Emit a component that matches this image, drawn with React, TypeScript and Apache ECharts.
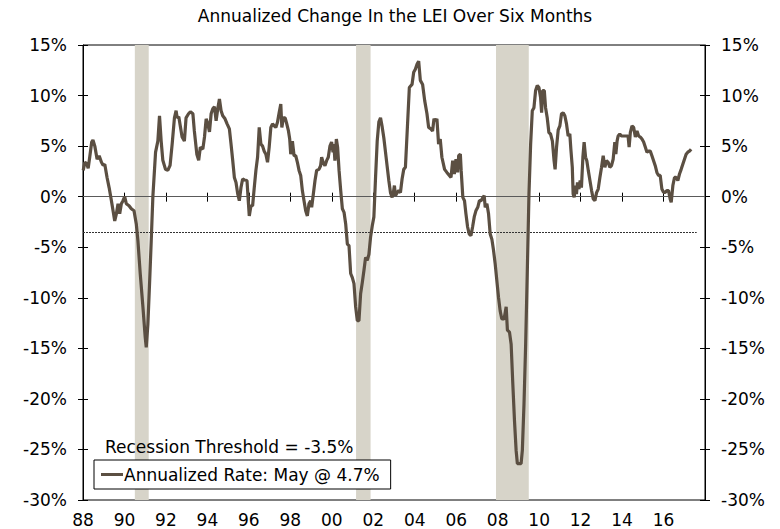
import React, { useEffect, useRef } from 'react';
import * as echarts from 'echarts';

const FONT = '"DejaVu Sans", Verdana, sans-serif';
const LINE_COLOR = '#5b4f42';
const BAND_COLOR = '#d7d4c9';

const subtitle = 'Annualized Change In the LEI Over Six Months';
const seriesName = 'Annualized Rate: May @ 4.7%';
const thresholdLabel = 'Recession Threshold = -3.5%';
const thresholdValue = -3.5;

const xMin = 1988;
const xMax = 2018;
const xInterval = 2;
const yMin = -30;
const yMax = 15;
const yInterval = 5;

// recession periods (decimal years)
const recessions: [number, number][] = [
  [1990.5, 1991.17],
  [2001.17, 2001.87],
  [2007.92, 2009.5],
];

// [decimal year, annualized % change]
const lei1988to1996: [number, number][] = [
  [1988.01, 2.6], [1988.09, 3.4], [1988.17, 3.3], [1988.25, 2.8], [1988.33, 4.0], [1988.42, 5.4],
  [1988.48, 5.6], [1988.57, 5.0], [1988.68, 3.7], [1988.78, 4.05], [1988.89, 3.4], [1988.97, 3.1],
  [1989.05, 3.2], [1989.16, 1.9], [1989.26, 0.9], [1989.37, -0.4], [1989.45, -1.4], [1989.53, -2.4],
  [1989.61, -1.7], [1989.69, -0.7], [1989.77, -1.7], [1989.85, -0.7], [1989.93, -0.4], [1990.01, 0.0],
  [1990.09, -0.7], [1990.22, -0.9], [1990.33, -1.2], [1990.46, -1.4], [1990.57, -2.7], [1990.65, -4.4],
  [1990.76, -7.6], [1990.89, -10.9], [1991.0, -13.9], [1991.05, -14.9], [1991.13, -12.6], [1991.21, -8.6],
  [1991.29, -4.4], [1991.37, 0.0], [1991.5, 4.4], [1991.61, 5.5], [1991.69, 8.0], [1991.77, 5.5],
  [1991.85, 3.6], [1991.98, 2.7], [1992.09, 2.6], [1992.2, 3.1], [1992.3, 5.2], [1992.41, 7.8],
  [1992.49, 8.5], [1992.54, 7.8], [1992.62, 7.9], [1992.7, 6.9], [1992.78, 5.9], [1992.89, 5.5],
  [1992.97, 7.8], [1993.09, 8.2], [1993.18, 8.4], [1993.3, 8.2], [1993.37, 6.5], [1993.49, 4.2],
  [1993.58, 3.6], [1993.66, 4.9], [1993.78, 4.7], [1993.86, 5.9], [1993.94, 7.7], [1994.02, 7.2],
  [1994.1, 6.4], [1994.18, 8.2], [1994.26, 8.7], [1994.34, 8.9], [1994.42, 7.5], [1994.5, 8.7],
  [1994.58, 9.65], [1994.66, 8.5], [1994.74, 8.0], [1994.85, 7.7], [1994.95, 7.2], [1995.06, 6.7],
  [1995.14, 5.2], [1995.22, 3.6], [1995.3, 1.9], [1995.38, 1.4], [1995.46, 0.3], [1995.54, -0.4],
  [1995.62, 0.9], [1995.7, 1.75], [1995.78, 1.65], [1995.91, 1.6], [1995.97, -0.4], [1996.02, -1.9],
  [1996.1, -0.9], [1996.18, -0.9], [1996.26, 0.9], [1996.34, 2.6], [1996.42, 3.9], [1996.5, 6.85],
];

const lei1996to2003: [number, number][] = [
  [1996.58, 5.2], [1996.66, 5.0], [1996.74, 4.5], [1996.82, 4.2], [1996.9, 3.4], [1996.98, 4.9],
  [1997.06, 6.85], [1997.14, 7.2], [1997.22, 7.0], [1997.3, 6.85], [1997.38, 7.35], [1997.46, 8.3],
  [1997.54, 9.15], [1997.59, 6.85], [1997.67, 7.8], [1997.75, 7.8], [1997.81, 7.35], [1997.91, 6.5],
  [1997.97, 5.7], [1998.02, 4.2], [1998.1, 5.5], [1998.18, 4.05], [1998.26, 4.05], [1998.34, 3.4],
  [1998.42, 2.6], [1998.5, 2.1], [1998.58, 0.6], [1998.66, -0.4], [1998.74, -1.4], [1998.82, -1.9],
  [1998.9, -0.7], [1998.98, -0.4], [1999.03, -1.05], [1999.11, 0.26], [1999.19, 1.6], [1999.27, 2.6],
  [1999.38, 2.7], [1999.46, 3.06], [1999.51, 3.9], [1999.58, 3.4], [1999.67, 3.06], [1999.75, 3.56],
  [1999.83, 3.9], [1999.91, 5.0], [1999.99, 5.4], [2000.06, 4.4], [2000.1, 5.2], [2000.15, 3.56],
  [2000.22, 5.7], [2000.28, 4.9], [2000.35, 2.6], [2000.43, 0.6], [2000.51, -1.2], [2000.59, -1.55],
  [2000.67, -2.7], [2000.75, -4.7], [2000.83, -4.85], [2000.91, -7.6], [2000.99, -8.0], [2001.07, -8.6],
  [2001.15, -10.9], [2001.23, -12.25], [2001.31, -12.25], [2001.39, -9.6], [2001.47, -8.5], [2001.55, -7.3],
  [2001.63, -6.0], [2001.71, -6.3], [2001.79, -5.7], [2001.87, -4.0], [2001.95, -2.9], [2002.03, -2.0],
  [2002.11, 1.9], [2002.19, 5.5], [2002.27, 7.4], [2002.35, 7.8], [2002.43, 6.9], [2002.51, 5.8],
  [2002.59, 4.4], [2002.67, 3.0], [2002.75, 1.6], [2002.83, 0.4], [2002.91, -0.07], [2002.96, 0.26],
  [2003.02, 1.1], [2003.07, 0.1], [2003.15, 0.4], [2003.23, 0.6], [2003.31, 0.4], [2003.39, 1.75],
  [2003.47, 2.7], [2003.55, 2.9],
];

const lei2003to2011: [number, number][] = [
  [2003.63, 6.2], [2003.74, 10.8], [2003.87, 11.1], [2003.95, 12.3], [2004.03, 12.6], [2004.11, 13.1],
  [2004.19, 13.4], [2004.27, 11.5], [2004.38, 11.1], [2004.48, 9.5], [2004.59, 8.2], [2004.67, 6.85],
  [2004.78, 6.7], [2004.86, 6.5], [2004.93, 7.7], [2005.0, 7.5], [2005.07, 7.7], [2005.15, 5.2],
  [2005.23, 5.7], [2005.31, 3.9], [2005.44, 2.7], [2005.55, 2.4], [2005.67, 2.1], [2005.75, 1.9],
  [2005.83, 3.56], [2005.91, 2.24], [2005.99, 3.7], [2006.07, 2.4], [2006.12, 4.05], [2006.2, 4.2],
  [2006.24, 2.6], [2006.32, -0.07], [2006.4, -0.4], [2006.47, -1.7], [2006.55, -3.0], [2006.63, -3.7],
  [2006.71, -3.85], [2006.79, -3.0], [2006.87, -2.0], [2006.95, -1.4], [2007.04, -1.05], [2007.12, -0.4],
  [2007.2, -0.4], [2007.29, -0.07], [2007.35, 0.1], [2007.4, -1.05], [2007.48, -0.7], [2007.56, -1.7],
  [2007.64, -3.7], [2007.72, -4.2], [2007.8, -5.3], [2007.88, -6.65], [2007.96, -8.3], [2008.04, -9.95],
  [2008.12, -11.3], [2008.2, -12.1], [2008.31, -12.1], [2008.41, -10.9], [2008.47, -13.2], [2008.57, -13.4],
  [2008.65, -14.6], [2008.73, -18.5], [2008.81, -22.1], [2008.89, -25.1], [2008.95, -26.4], [2009.05, -26.4],
  [2009.13, -26.4], [2009.19, -25.1], [2009.27, -20.5], [2009.35, -14.6], [2009.43, -7.3], [2009.51, 0.26],
  [2009.59, 5.2], [2009.67, 8.5], [2009.75, 8.8], [2009.83, 10.5], [2009.91, 11.0], [2009.99, 10.8],
  [2010.07, 9.8], [2010.12, 8.3], [2010.17, 10.5], [2010.25, 10.5], [2010.31, 8.8], [2010.39, 7.8],
  [2010.47, 6.35], [2010.55, 6.2], [2010.64, 5.5], [2010.72, 3.56], [2010.77, 2.7], [2010.84, 4.9],
  [2010.92, 6.6],
];

const lei2011to2017: [number, number][] = [
  [2011.0, 7.0], [2011.08, 8.2], [2011.16, 8.3], [2011.24, 8.0], [2011.32, 7.2], [2011.4, 6.0],
  [2011.48, 6.2], [2011.53, 4.7], [2011.6, 2.9], [2011.64, 0.26], [2011.69, -0.07], [2011.76, 1.1],
  [2011.8, 0.26], [2011.85, 1.4], [2011.92, 0.75], [2011.98, 1.6], [2012.04, 0.9], [2012.11, 3.9],
  [2012.17, 5.4], [2012.24, 3.9], [2012.3, 3.56], [2012.37, 2.6], [2012.45, 1.6], [2012.53, 0.6],
  [2012.61, -0.23], [2012.69, -0.4], [2012.77, 0.4], [2012.85, 0.75], [2012.93, 1.9], [2013.01, 2.9],
  [2013.09, 4.05], [2013.17, 2.9], [2013.25, 3.56], [2013.33, 3.4], [2013.41, 2.9], [2013.49, 3.06],
  [2013.57, 3.7], [2013.65, 5.4], [2013.7, 4.2], [2013.76, 5.5], [2013.81, 6.0], [2013.89, 6.2],
  [2013.97, 6.0], [2014.05, 6.0], [2014.13, 6.0], [2014.21, 6.0], [2014.29, 6.0], [2014.34, 4.9],
  [2014.4, 6.35], [2014.48, 7.0], [2014.56, 6.85], [2014.64, 5.9], [2014.72, 6.5], [2014.8, 6.0],
  [2014.88, 5.9], [2014.96, 5.7], [2015.04, 5.4], [2015.12, 4.9], [2015.2, 4.4], [2015.28, 4.5],
  [2015.36, 4.5], [2015.44, 4.05], [2015.52, 3.56], [2015.6, 3.06], [2015.68, 2.4], [2015.76, 2.1],
  [2015.84, 2.1], [2015.92, 0.75], [2016.0, 0.43], [2016.08, 0.43], [2016.16, 0.6], [2016.24, 0.6],
  [2016.32, -0.23], [2016.37, -0.56], [2016.45, 1.1], [2016.53, 1.9], [2016.61, 1.9], [2016.69, 1.6],
  [2016.77, 2.24], [2016.85, 2.7], [2016.93, 3.2], [2017.01, 3.7], [2017.09, 4.2], [2017.17, 4.4],
  [2017.25, 4.5], [2017.33, 4.7],
];

const yearLabel = (v: number) => {
  if (v >= xMax || !Number.isInteger(v)) return '';
  return String(v % 100).padStart(2, '0');
};

export default function App() {
  const ref = useRef<HTMLDivElement>(null);

  useEffect(() => {
    document.body.style.margin = '0';
    if (!ref.current) return;
    const chart = echarts.init(ref.current, undefined, { renderer: 'svg' });
    const leiData = [...lei1988to1996, ...lei1996to2003, ...lei2003to2011, ...lei2011to2017];

    const axisText = { fontSize: 17, fontFamily: FONT, color: '#000' };
    const baseX = {
      type: 'value' as const,
      min: xMin,
      max: xMax,
      interval: xInterval,
      position: 'bottom' as const,
      splitLine: { show: false },
    };
    const baseY = {
      type: 'value' as const,
      min: yMin,
      max: yMax,
      interval: yInterval,
      splitLine: { show: false },
    };

    chart.setOption({
      animation: false,
      grid: {
        left: 83,
        right: 75,
        top: 45,
        bottom: 29,
        show: true,
        borderColor: '#000',
        borderWidth: 1,
        backgroundColor: 'transparent',
      },
      legend: {
        data: [{ name: seriesName, icon: 'rect' }],
        left: 94,
        top: 460,
        itemWidth: 22,
        itemHeight: 3,
        padding: [6, 11, 6, 7],
        borderColor: '#000',
        borderWidth: 1,
        backgroundColor: '#fff',
        selectedMode: false,
        textStyle: { fontSize: 17, fontFamily: FONT, color: '#000', padding: [0, 0, 0, -4] },
      },
      graphic: [
        {
          type: 'text',
          x: 395,
          y: 16,
          style: {
            text: subtitle,
            fontSize: 17,
            fontFamily: FONT,
            fill: '#000',
            align: 'center',
            verticalAlign: 'middle',
          },
        },
        {
          type: 'text',
          x: 105,
          y: 447,
          z: 10,
          style: {
            text: thresholdLabel,
            fontSize: 17,
            fontFamily: FONT,
            fill: '#000',
            align: 'left',
            verticalAlign: 'middle',
          },
        },
      ],
      xAxis: [
        {
          ...baseX,
          axisLine: { show: true, lineStyle: { color: '#000', width: 1 } },
          axisTick: { show: true, length: 5, lineStyle: { color: '#000' } },
          axisLabel: { ...axisText, margin: 11, formatter: yearLabel },
        },
        {
          ...baseX,
          axisLine: { show: false },
          axisTick: { show: true, inside: true, length: 4, lineStyle: { color: '#000' } },
          axisLabel: { show: false },
        },
      ],
      yAxis: [
        {
          ...baseY,
          position: 'left',
          axisLine: { show: true, lineStyle: { color: '#000', width: 1 } },
          axisTick: { show: true, length: 5, lineStyle: { color: '#000' } },
          axisLabel: { ...axisText, margin: 16, formatter: (v: number) => `${v}%` },
        },
        {
          ...baseY,
          position: 'left',
          axisLine: { show: false },
          axisTick: { show: true, inside: true, length: 5, lineStyle: { color: '#000' } },
          axisLabel: { show: false },
        },
        {
          ...baseY,
          position: 'right',
          axisLine: { show: true, lineStyle: { color: '#000', width: 1 } },
          axisTick: { show: true, length: 5, lineStyle: { color: '#000' } },
          axisLabel: { ...axisText, margin: 16, formatter: (v: number) => `${v}%` },
        },
        {
          ...baseY,
          position: 'right',
          axisLine: { show: false },
          axisTick: { show: true, inside: true, length: 5, lineStyle: { color: '#000' } },
          axisLabel: { show: false },
        },
      ],
      series: [
        {
          name: 'recessions',
          type: 'line',
          data: [],
          z: 1,
          silent: true,
          markArea: {
            silent: true,
            itemStyle: { color: BAND_COLOR },
            data: recessions.map(([a, b]) => [{ xAxis: a }, { xAxis: b }]),
          },
        },
        {
          name: 'reference lines',
          type: 'line',
          data: [],
          z: 2,
          silent: true,
          markLine: {
            silent: true,
            symbol: ['none', 'none'],
            label: { show: false },
            data: [
              [
                { coord: [xMin, 0], lineStyle: { color: '#5a5a5a', width: 1, type: 'solid' } },
                { coord: [xMax, 0] },
              ],
              [
                { coord: [xMin, thresholdValue], lineStyle: { color: '#333', width: 1, type: [2, 1] } },
                { coord: [2017.6, thresholdValue] },
              ],
            ],
          },
        },
        {
          name: seriesName,
          type: 'line',
          data: leiData,
          z: 5,
          symbol: 'none',
          showSymbol: false,
          lineStyle: { color: LINE_COLOR, width: 3.2 },
          itemStyle: { color: LINE_COLOR },
        },
      ],
    });

    return () => chart.dispose();
  }, []);

  return <div ref={ref} style={{ width: 780, height: 529 }} />;
}
